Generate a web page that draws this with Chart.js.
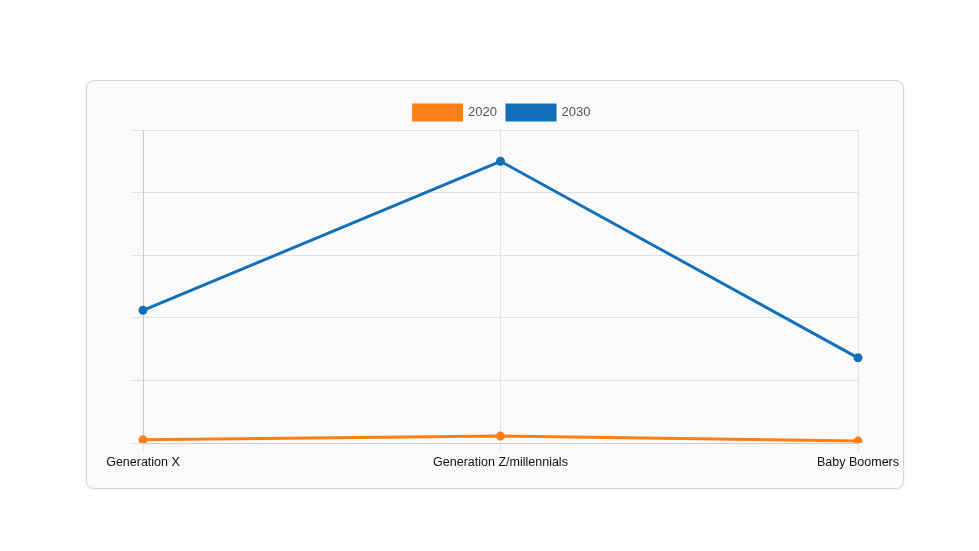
<!DOCTYPE html>
<html><head><meta charset="utf-8">
<script src="https://cdn.jsdelivr.net/npm/chart.js"></script>
<style>
body{margin:0;background:#fff;font-family:"Liberation Sans",Arial,sans-serif}
#card{position:absolute;left:86px;top:80px;width:816px;height:407px;border:1px solid #d6d6d6;border-radius:8px;background:#fafafa;box-shadow:0 1px 3px rgba(0,0,0,0.08)}
#wrap{position:absolute;left:0;top:0;width:816px;height:407px}
</style></head><body>
<div id="card"><div id="wrap"><canvas id="c"></canvas></div></div>
<script>
const categories = ["Generation X","Generation Z/millennials","Baby Boomers"];
const values2020 = [0.5, 1.1, 0.3];
const values2030 = [21.2, 45, 13.6];
const seriesLabels = ["2020","2030"];
new Chart(document.getElementById('c'), {
  type:'line',
  data:{labels:categories,datasets:[
    {label:seriesLabels[0],data:values2020,borderColor:'#fd7f16',backgroundColor:'#fd7f16',borderWidth:3,pointRadius:3,tension:0},
    {label:seriesLabels[1],data:values2030,borderColor:'#1170b8',backgroundColor:'#1170b8',borderWidth:3,pointRadius:3,tension:0}
  ]},
  options:{responsive:true,maintainAspectRatio:false,animation:false,
    layout:{padding:{left:44,right:30,top:14,bottom:14}},
    plugins:{legend:{position:'top',labels:{boxWidth:48,boxHeight:15,color:'#555',font:{size:13,family:'Liberation Sans'}}},tooltip:{enabled:false}},
    scales:{
      x:{grid:{color:'#e2e2e2'},border:{color:'#ccc'},ticks:{color:'#111',font:{size:12.5,family:'Liberation Sans'},padding:4}},
      y:{min:0,max:50,ticks:{stepSize:10,display:false},grid:{color:'#e2e2e2',tickLength:12},border:{color:'#ccc'}}
    }}
});
</script></body></html>
